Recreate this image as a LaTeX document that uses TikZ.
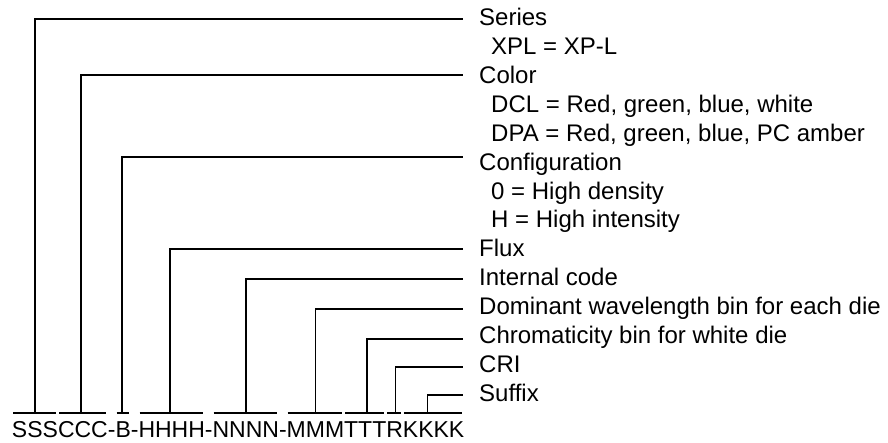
\documentclass[tikz,border=0pt]{standalone}
\usepackage{fontspec}
\setmainfont{Liberation Sans}
\begin{document}
\begin{tikzpicture}[x=1pt,y=-1pt,
  lbl/.style={anchor=base west, inner sep=0pt, font=\fontsize{24}{28}\selectfont},
  codetxt/.style={anchor=base west, inner sep=0pt, outer sep=0pt, font=\fontsize{23}{28}\selectfont},
  conn/.style={line width=1.7pt, line join=miter}]
\useasboundingbox (0,0) rectangle (888,443);

% labels
\node[lbl] (series) at (479,26) {Series};
\node[lbl] (xpl)    at (491,54.85) {XPL = XP-L};
\node[lbl] (color)  at (479,83.7) {Color};
\node[lbl] (dcl)    at (491,112.55) {DCL = Red, green, blue, white};
\node[lbl] (dpa)    at (491,141.4) {DPA = Red, green, blue, PC amber};
\node[lbl] (config) at (479,170.25) {Configuration};
\node[lbl] (hd)     at (491,199.1) {0 = High density};
\node[lbl] (hi)     at (491,227.95) {H = High intensity};
\node[lbl] (flux)   at (479,256.8) {Flux};
\node[lbl] (icode)  at (479,285.65) {Internal code};
\node[lbl] (dom)    at (479,314.5) {Dominant wavelength bin for each die};
\node[lbl] (chrom)  at (479,343.35) {Chromaticity bin for white die};
\node[lbl] (cri)    at (479,372.2) {CRI};
\node[lbl] (suffix) at (479,401.05) {Suffix};

% code string
\node[codetxt] (s)  at (12,437) {SSS};
\node[codetxt] (c)  at (s.base east) {CCC};
\node[codetxt] (d1) at (c.base east) {-};
\node[codetxt] (b)  at (d1.base east) {B};
\node[codetxt] (d2) at (b.base east) {-};
\node[codetxt] (h)  at (d2.base east) {HHHH};
\node[codetxt] (d3) at (h.base east) {-};
\node[codetxt] (n)  at (d3.base east) {NNNN};
\node[codetxt] (d4) at (n.base east) {-};
\node[codetxt] (m)  at (d4.base east) {MMM};
\node[codetxt] (t)  at (m.base east) {TTT};
\node[codetxt] (r)  at (t.base east) {R};
\node[codetxt] (k)  at (r.base east) {KKKK};

\coordinate (ul) at (0,413);
\foreach \g in {s,c,b,h,n,m,t,r,k}
  \draw[conn] ([xshift=1pt]\g.west |- ul) -- ([xshift=-2pt]\g.east |- ul);

% line ends
\coordinate (eS)  at (463,19);
\coordinate (eC)  at (463,75);
\coordinate (eCf) at (463,157);
\coordinate (eF)  at (463,249);
\coordinate (eI)  at (463,279);
\coordinate (eD)  at (463,309);
\coordinate (eCh) at (463,339);
\coordinate (eR)  at (463,367);
\coordinate (eSu) at (463,395);

\draw[conn] (s.center |- ul) |- (eS);
\draw[conn] ([xshift=-2pt]c.center |- ul) |- (eC);
\draw[conn] ([xshift=-1pt]b.center |- ul) |- (eCf);
\draw[conn] ([xshift=-2pt]h.center |- ul) |- (eF);
\draw[conn] (n.center |- ul) |- (eI);
\draw[conn] (m.center |- ul) |- (eD);
\draw[conn] ([xshift=2pt]t.center |- ul) |- (eCh);
\draw[conn] ([xshift=1pt]r.center |- ul) |- (eR);
\draw[conn] ([xshift=-6pt]k.center |- ul) |- (eSu);
\end{tikzpicture}
\end{document}
